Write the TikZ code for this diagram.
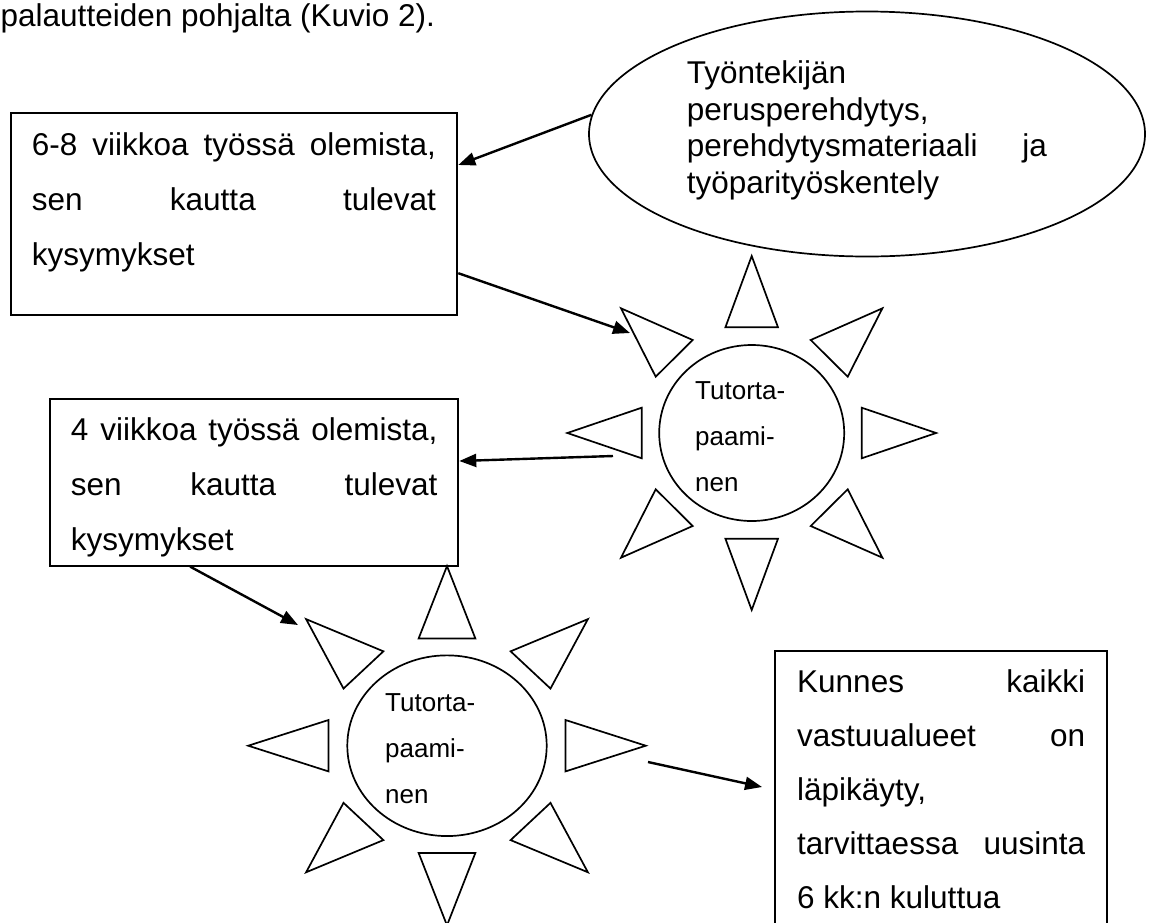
\documentclass[tikz,border=0pt]{standalone}
\usepackage{fontspec}
\setmainfont{Liberation Sans}
\usetikzlibrary{arrows.meta,shapes.geometric}
\begin{document}
\begin{tikzpicture}[x=1pt,y=-1pt,
  boxst/.style={draw=black, line width=1.9pt, inner sep=0pt, rectangle},
  ovalst/.style={draw=black, line width=1.7pt, inner sep=0pt, ellipse},
  ray/.style={draw=black, line width=1.7pt, line join=miter},
  conn/.style={draw=black, line width=2.4pt, -{Triangle[length=17pt,width=13pt]}},
  txt/.style={inner sep=0pt, anchor=base west, font=\fontsize{31.5}{36}\selectfont},
  suntxt/.style={inner sep=0pt, anchor=base west, font=\fontsize{26}{30}\selectfont}]
\useasboundingbox (0,0) rectangle (1149,922);
\clip (0,0) rectangle (1149,922);

% title line
\node[txt, text height=23pt, text depth=7pt] (title) at (0.5,26.7) {palautteiden pohjalta (Kuvio 2).};

% ellipse
\node[ovalst, minimum width=556pt, minimum height=245pt] (ell) at (867,134) {};
\node[txt] (e1) at (686.7,83.3) {Työntekijän};
\node[txt] (e2) at (686.7,120) {perusperehdytys,};
\node[txt] (e3) at (686.7,156.7) {\makebox[360pt][s]{perehdytysmateriaali ja}};
\node[txt] (e4) at (686.7,193.3) {työparityöskentely};

% box 1
\node[boxst, minimum width=446.3pt, minimum height=201.7pt] (box1) at (234.2,214.2) {};
\node[txt] (b1l1) at (31.7,155) {\makebox[404pt][s]{6-8 viikkoa työssä olemista,}};
\node[txt] (b1l2) at (31.7,210) {\makebox[404pt][s]{sen kautta tulevat}};
\node[txt] (b1l3) at (31.7,265) {kysymykset};

% box 2
\node[boxst, minimum width=408.3pt, minimum height=166.4pt] (box2) at (254.2,482.5) {};
\node[txt] (b2l1) at (70.7,440) {\makebox[366.6pt][s]{4 viikkoa työssä olemista,}};
\node[txt] (b2l2) at (70.7,495) {\makebox[366.6pt][s]{sen kautta tulevat}};
\node[txt] (b2l3) at (70.7,550) {kysymykset};

% box 3
\node[boxst, minimum width=332pt, minimum height=309pt] (box3) at (941,805.5) {};
\node[txt] (b3l1) at (797,692) {\makebox[288pt][s]{Kunnes kaikki}};
\node[txt] (b3l2) at (797,746) {\makebox[288pt][s]{vastuualueet on}};
\node[txt] (b3l3) at (797,800) {läpikäyty,};
\node[txt] (b3l4) at (797,854) {\makebox[288pt][s]{tarvittaessa uusinta}};
\node[txt] (b3l5) at (797,908) {6 kk:n kuluttua};

% sun 1
\node[ovalst, minimum width=185pt, minimum height=176pt] (sun1) at (751.7,433) {};
\node[suntxt] (s1t1) at (695,399) {Tutorta-};
\node[suntxt] (s1t2) at (695,445) {paami-};
\node[suntxt] (s1t3) at (695,491) {nen};
\begin{scope}[shift={(751.7,433)}]
  \draw[ray] (0,-177) -- (-26.3,-105.7) -- (26.3,-105.7) -- cycle;
  \draw[ray] (0,177) -- (-26.3,105.7) -- (26.3,105.7) -- cycle;
  \draw[ray] (-184.4,0) -- (-110,-25.3) -- (-110,25.3) -- cycle;
  \draw[ray] (184.4,0) -- (110,-25.3) -- (110,25.3) -- cycle;
  \draw[ray] (-130.7,-124.7) -- (-59,-93) -- (-96,-56.3) -- cycle;
  \draw[ray] (130.7,-124.7) -- (59,-93) -- (96,-56.3) -- cycle;
  \draw[ray] (-130.7,124.7) -- (-59,93) -- (-96,56.3) -- cycle;
  \draw[ray] (130.7,124.7) -- (59,93) -- (96,56.3) -- cycle;
\end{scope}

% sun 2
\node[ovalst, minimum width=199.4pt, minimum height=180.7pt] (sun2) at (447,745.7) {};
\node[suntxt] (s2t1) at (385,711) {Tutorta-};
\node[suntxt] (s2t2) at (385,757) {paami-};
\node[suntxt] (s2t3) at (385,803) {nen};
\begin{scope}[shift={(447,745.7)}, xscale=1.078, yscale=1.015]
  \draw[ray] (0,-177) -- (-26.3,-105.7) -- (26.3,-105.7) -- cycle;
  \draw[ray] (0,177) -- (-26.3,105.7) -- (26.3,105.7) -- cycle;
  \draw[ray] (-184.4,0) -- (-110,-25.3) -- (-110,25.3) -- cycle;
  \draw[ray] (184.4,0) -- (110,-25.3) -- (110,25.3) -- cycle;
  \draw[ray] (-130.7,-124.7) -- (-59,-93) -- (-96,-56.3) -- cycle;
  \draw[ray] (130.7,-124.7) -- (59,-93) -- (96,-56.3) -- cycle;
  \draw[ray] (-130.7,124.7) -- (-59,93) -- (-96,56.3) -- cycle;
  \draw[ray] (130.7,124.7) -- (59,93) -- (96,56.3) -- cycle;
\end{scope}

% connector end points
\coordinate (s1ul) at (630,333);
\coordinate (s1w) at (613,456);
\coordinate (s2ul) at (298,625);
\coordinate (s2e) at (648,762);

% connectors
\draw[conn] (ell.176) -- ([yshift=49.2pt]box1.east);
\draw[conn] ([yshift=-59pt]box1.east) -- (s1ul);
\draw[conn] (s1w) -- ([yshift=21.5pt]box2.east);
\draw[conn] ([xshift=-64pt]box2.south) -- (s2ul);
\draw[conn] (s2e) -- ([xshift=-12pt,yshift=18.5pt]box3.west);
\end{tikzpicture}
\end{document}
